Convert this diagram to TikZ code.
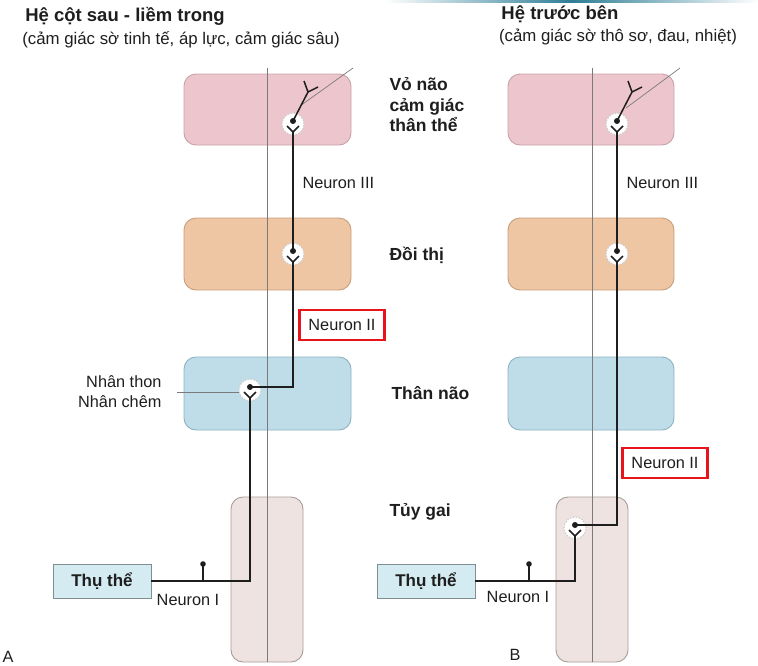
\documentclass[tikz,border=0pt]{standalone}
\usepackage{fontspec}
\setmainfont{Liberation Sans}
\usetikzlibrary{positioning,calc}
\definecolor{ink}{HTML}{1E1E1E}
\definecolor{midgray}{HTML}{7A7A7A}
\definecolor{alert}{HTML}{E8141B}
\definecolor{cortexbg}{HTML}{EDC6CD}
\definecolor{cortexedge}{HTML}{C9A1A9}
\definecolor{thalbg}{HTML}{EEC6A4}
\definecolor{thaledge}{HTML}{C89E7B}
\definecolor{stembg}{HTML}{BEDDE9}
\definecolor{stemedge}{HTML}{8DB2C1}
\definecolor{cordbg}{HTML}{EFE3E1}
\definecolor{cordedge}{HTML}{A99D9A}
\definecolor{recbg}{HTML}{D4EBF2}
\definecolor{recedge}{HTML}{7F8E93}
\definecolor{topteal}{HTML}{2E7E96}

\begin{document}
\begin{tikzpicture}[
  x=1pt,y=-1pt,
  head/.style={font=\bfseries\fontsize{18.5}{21}\selectfont,text=ink},
  sub/.style={font=\fontsize{16.8}{19}\selectfont,text=ink},
  lvl/.style={font=\bfseries\fontsize{17.5}{20.5}\selectfont,text=ink,align=left,anchor=west},
  lab/.style={font=\fontsize{16.3}{20}\selectfont,text=ink},
  redbox/.style={lab,draw=alert,line width=2.2pt,minimum width=85pt,minimum height=30pt,inner sep=2pt},
  receptor/.style={font=\bfseries\fontsize{17}{19}\selectfont,text=ink,fill=recbg,draw=recedge,line width=.9pt,minimum width=98pt,minimum height=34pt},
  region/.style={rounded corners=12pt,line width=.9pt},
  axon/.style={draw=ink,line width=1.5pt},
  midline/.style={draw=midgray,line width=1pt},
  pointer/.style={draw=midgray,line width=.7pt},
  soma/.style={fill=white,draw=gray!40,dashed,dash pattern=on 1.6pt off 1.4pt,line width=1.1pt}
]
\useasboundingbox (0,0) rectangle (758,665);
\shade[left color=white,right color=white,middle color=topteal] (385,0) rectangle (758,2.5);

% Regions, column A
\filldraw[region,fill=cortexbg,draw=cortexedge] (184,74) rectangle (351,145);
\filldraw[region,fill=thalbg,draw=thaledge] (184,218) rectangle (351,290);
\filldraw[region,fill=stembg,draw=stemedge] (184,357) rectangle (351,430);
\filldraw[region,fill=cordbg,draw=cordedge] (231,497) rectangle (303,662);

% Regions, column B
\filldraw[region,fill=cortexbg,draw=cortexedge] (508,74) rectangle (674,145);
\filldraw[region,fill=thalbg,draw=thaledge] (508,218) rectangle (674,290);
\filldraw[region,fill=stembg,draw=stemedge] (508,357) rectangle (674,430);
\filldraw[region,fill=cordbg,draw=cordedge] (556,497) rectangle (628,662);

% midlines
\draw[midline] (267,68) -- (267,662);
\draw[midline] (592,68) -- (592,662);

% relay somata
\coordinate (cxA) at (293,121);
\coordinate (thA) at (293,251);
\coordinate (bsA) at (250,387);
\coordinate (cxB) at (617,121);
\coordinate (thB) at (617,251);
\coordinate (scB) at (575,525);
\coordinate (tipA) at (308,92);
\coordinate (tipB) at (632,92);
\coordinate (ptA) at (353,68);
\coordinate (ptB) at (680,68);

\draw[pointer] (ptA) -- (300,106);
\draw[pointer] (ptB) -- (626,108);

\foreach \p in {cxA,thA,bsA,cxB,thB,scB}{\filldraw[soma] ($(\p)+(0,3)$) circle (11pt);}

% labels
\node[head] (titA) at (125,16) {Hệ cột sau - liềm trong};
\node[sub] (subA) at (181,40) {(cảm giác sờ tinh tế, áp lực, cảm giác sâu)};
\node[head] (titB) at (560,14) {Hệ trước bên};
\node[sub] (subB) at (618,37) {(cảm giác sờ thô sơ, đau, nhiệt)};
\node[lvl] (lvCx) at (386,105) {Vỏ não\\cảm giác\\thân thể};
\node[lvl] (lvTh) at (386,255) {Đồi thị};
\node[lvl] (lvBs) at (388,393) {Thân não};
\node[lvl] (lvSc) at (386,512) {Tủy gai};
\node[lab,anchor=west] (n3A) at (299,183) {Neuron III};
\node[lab,anchor=west] (n3B) at (623,183) {Neuron III};
\node[redbox] (n2A) at (342,325) {Neuron II};
\node[redbox] (n2B) at (665,463) {Neuron II};
\node[lab,align=right,anchor=east] (nucA) at (165,392) {Nhân thon\\Nhân chêm};
\node[receptor] (recA) at (102,581) {Thụ thể};
\node[receptor] (recB) at (426,581) {Thụ thể};
\node[lab] (n1A) at (188,600) {Neuron I};
\node[lab] (n1B) at (518,597) {Neuron I};
\node[lab] (tagA) at (8,657) {A};
\node[lab] (tagB) at (515,655) {B};

\draw[pointer,shorten >=11pt] ([xshift=12pt]nucA.east) -- (nucA.east -| bsA);

% pathway A: neuron I, II, III
\draw[axon] (recA.east) -| ($(bsA)+(0,11)$);
\draw[axon] (bsA) -| ($(thA)+(0,11)$);
\draw[axon] (thA) -- ($(cxA)+(0,11)$);
\draw[axon] (cxA) -- (tipA);
% pathway B
\draw[axon] (recB.east) -| ($(scB)+(0,11)$);
\draw[axon] (scB) -| ($(thB)+(0,11)$);
\draw[axon] (thB) -- ($(cxB)+(0,11)$);
\draw[axon] (cxB) -- (tipB);

% synaptic terminals and cell bodies
\foreach \p in {cxA,thA,bsA,cxB,thB,scB}{
  \draw[axon] ($(\p)+(-6,5)$) -- ($(\p)+(0,11)$) -- ($(\p)+(6,5)$);
  \fill[ink] (\p) circle (3pt);
}
\foreach \t in {tipA,tipB}{\draw[axon] ($(\t)+(-4,-11)$) -- (\t) -- ($(\t)+(10,-5)$);}

% collateral stubs on neuron I
\foreach \x/\r in {203/recA,529/recB}{
  \draw[axon] (\x,0 |- \r.east) -- ++(0,-17);
  \fill[ink] (\x,0 |- \r.east) ++(0,-17) circle (2.8pt);
}
\end{tikzpicture}
\end{document}
